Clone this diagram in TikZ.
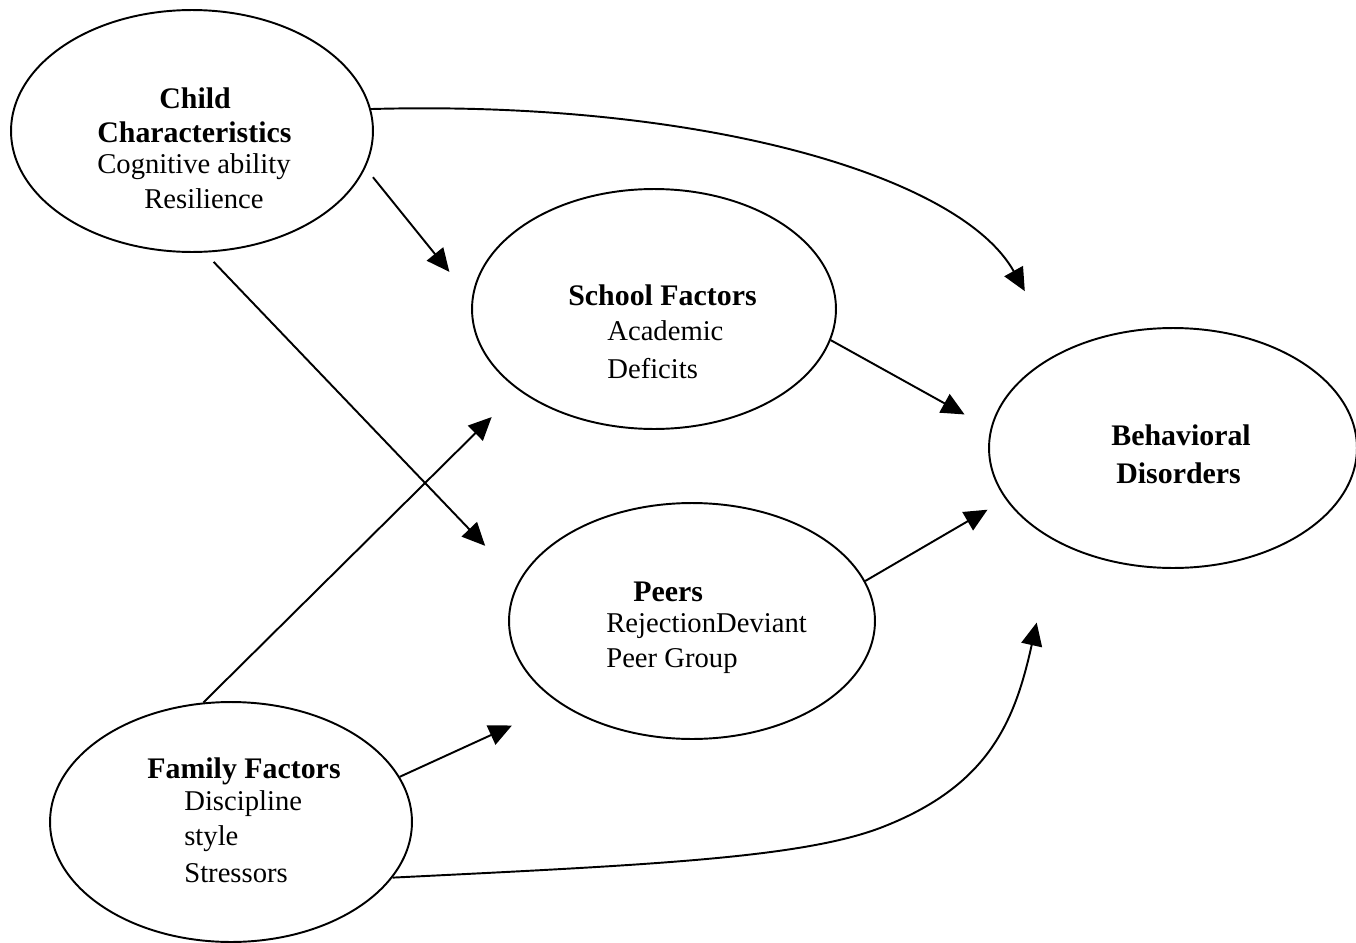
\documentclass[tikz,border=0pt]{standalone}
\usepackage{fontspec}
\setmainfont{Liberation Serif}
\usetikzlibrary{shapes.geometric,arrows.meta,calc}
\tikzset{
  ell/.style={draw=black, line width=1.1pt, ellipse, inner sep=0pt, fill=none},
  txt/.style={anchor=base west, inner sep=0pt, font=\fontsize{16.3}{20}\selectfont},
  btxt/.style={anchor=base west, inner sep=0pt, font=\fontsize{17}{20}\selectfont\bfseries},
  arr/.style={line width=1.1pt, -{Triangle[length=0.46cm,width=0.42cm]}},
}
\begin{document}
\begin{tikzpicture}[x=0.02cm,y=-0.02cm]
\useasboundingbox[fill=white] (0,0) rectangle (1356,943);

% ellipses
\node[ell, minimum width=7.24cm, minimum height=4.84cm] (child) at (192,131) {};
\node[ell, minimum width=7.28cm, minimum height=4.80cm] (school) at (654,309) {};
\node[ell, minimum width=7.36cm, minimum height=4.80cm] (behav) at (1173,448) {};
\node[ell, minimum width=7.32cm, minimum height=4.72cm] (peers) at (692,621) {};
\node[ell, minimum width=7.24cm, minimum height=4.80cm] (family) at (231,822) {};

% texts
\node[btxt] (c1) at (159,108) {Child};
\node[btxt] (c2) at (97,142) {Characteristics};
\node[txt] (c3) at (97,173) {Cognitive ability};
\node[txt] (c4) at (144,208) {Resilience};

\node[btxt] (s1) at (568,305) {School Factors};
\node[txt] (s2) at (607,340) {Academic};
\node[txt] (s3) at (607,378) {Deficits};

\node[btxt] (b1) at (1111,445) {Behavioral};
\node[btxt] (b2) at (1116,483) {Disorders};

\node[btxt] (p1) at (633,601) {Peers};
\node[txt] (p2) at (606,632) {RejectionDeviant};
\node[txt] (p3) at (606,667) {Peer Group};

\node[btxt] (f1) at (147,778) {Family Factors};
\node[txt] (f2) at (184,810) {Discipline};
\node[txt] (f3) at (184,845) {style};
\node[txt] (f4) at (184,882) {Stressors};

% straight arrows
\draw[arr, shorten <=0.24cm, shorten >=0.71cm] (child.-12) -- (school.177);
\draw[arr, shorten <=0.256cm, shorten >=0.974cm] (child.-84.7) -- (peers.167.7);
\draw[arr, shorten >=0.76cm] (family.103.2) -- (school.211.2);
\draw[arr, shorten >=1.052cm] (family.15.1) -- (peers.212.1);
\draw[arr, shorten >=0.592cm] (school.-10.2) -- (behav.174.9);
\draw[arr, shorten >=0.416cm] (peers.13.9) -- (behav.197.4);

% curved arrows (end points lie on the tangent through the target's border)
\draw[arr] (child.7) .. controls (700,100) and (960,175)
  .. ($(behav.140.3)!1.41cm!(994.2,236.6)$);
\draw[arr] (family.-19) .. controls (650,865) and (800,858) .. (880,828)
  .. controls (990,786) and (1015,720) .. ($(behav.218.1)!1.675cm!(1033.3,638.3)$);
\end{tikzpicture}
\end{document}
